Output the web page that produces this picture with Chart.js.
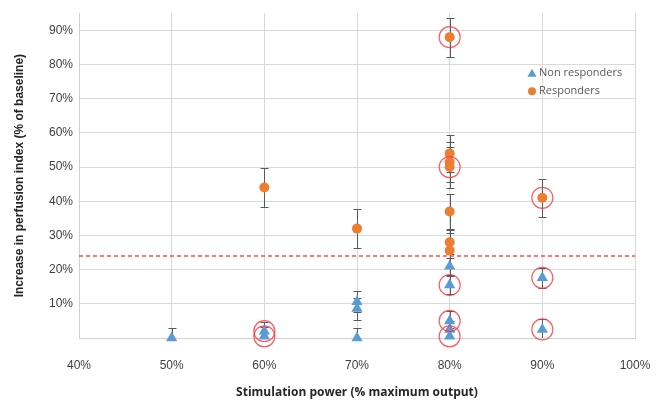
<!DOCTYPE html>
<html>
<head>
<meta charset="utf-8">
<script src="https://cdn.jsdelivr.net/npm/chart.js@4/dist/chart.umd.min.js"></script>
<style>
  html, body { margin: 0; padding: 0; background: #fff; }
  #wrap { width: 661px; height: 400px; }
</style>
</head>
<body>
<div id="wrap"><canvas id="chart" width="661" height="400"></canvas></div>
<script>
// Stimulation power (% max output) and perfusion increase (% of baseline)
const nonRespX   = [50, 60, 60, 70, 70, 70, 80, 80, 80, 80, 80, 90, 90];
const nonRespY   = [0, 2, 0.5, 10.6, 8.6, 0, 21, 15.5, 5, 2.5, 0.5, 17.6, 2.5];
const nonRespErr = [3, 2.6, 2.6, 3.1, 3.2, 3, 2.5, 2.5, 3, 2.5, 2.5, 3, 3.2];

const respX   = [60, 70, 80, 80, 80, 80, 80, 80, 80, 90];
const respY   = [44, 32, 88, 54, 51.5, 50, 37, 28, 25.6, 41];
const respErr = [5.6, 5.6, 5.7, 5.4, 5.8, 6, 5, 3.5, 5, 5.6];

// points marked with a red ring
const ringX = [60, 60, 80, 80, 80, 80, 80, 90, 90, 90];
const ringY = [2, 0.5, 88, 50, 15.5, 5, 0.5, 41, 17.6, 2.5];

const legendNames = ['Non responders', 'Responders'];

const threshold = 24;
const xMin = 40, xMax = 100;
const yMin = 0, yMax = 95;

const toPoints = (xs, ys) => xs.map((x, i) => ({ x: x, y: ys[i] }));

// simple vertical error bars drawn through the chart scales
const errorBars = {
  id: 'errorBars',
  beforeDatasetsDraw(chart) {
    const ctx = chart.ctx;
    const xs = chart.scales.x;
    const ys = chart.scales.y;
    const sets = [[nonRespX, nonRespY, nonRespErr], [respX, respY, respErr]];
    ctx.save();
    ctx.beginPath();
    ctx.rect(chart.chartArea.left, chart.chartArea.top - 10,
      chart.chartArea.width, chart.chartArea.height + 10);
    ctx.clip();
    ctx.strokeStyle = '#595959';
    ctx.lineWidth = 1;
    sets.forEach(([px, py, pe]) => {
      px.forEach((x, i) => {
        const cx = Math.round(xs.getPixelForValue(x)) + 0.5;
        const top = Math.round(ys.getPixelForValue(py[i] + pe[i])) + 0.5;
        const bot = Math.round(ys.getPixelForValue(py[i] - pe[i])) + 0.5;
        ctx.beginPath();
        ctx.moveTo(cx, top); ctx.lineTo(cx, bot);
        ctx.moveTo(cx - 4, top); ctx.lineTo(cx + 4, top);
        ctx.moveTo(cx - 4, bot); ctx.lineTo(cx + 4, bot);
        ctx.stroke();
      });
    });
    ctx.restore();
  }
};

// legend inside the plot, upper right like the original
const innerLegend = {
  id: 'innerLegend',
  afterDraw(chart) {
    const ctx = chart.ctx;
    const x0 = chart.chartArea.right - 103;
    let y0 = chart.chartArea.top + 60;
    ctx.save();
    ctx.font = '11px "Open Sans"';
    ctx.textBaseline = 'middle';
    legendNames.forEach((name) => {
      const ds = chart.data.datasets.find((d) => d.label === name);
      ctx.fillStyle = ds.backgroundColor;
      ctx.beginPath();
      if (ds.pointStyle === 'triangle') {
        ctx.moveTo(x0, y0 - 4.5);
        ctx.lineTo(x0 + 4.5, y0 + 3.5);
        ctx.lineTo(x0 - 4.5, y0 + 3.5);
        ctx.closePath();
      } else {
        ctx.arc(x0, y0, 4, 0, Math.PI * 2);
      }
      ctx.fill();
      ctx.fillStyle = '#595959';
      ctx.fillText(name, x0 + 7, y0);
      y0 += 18;
    });
    ctx.restore();
  }
};

new Chart(document.getElementById('chart'), {
  type: 'scatter',
  data: {
    datasets: [
      {
        label: 'Threshold',
        type: 'line',
        data: [{ x: xMin, y: threshold }, { x: xMax, y: threshold }],
        borderColor: '#ff4b4b',
        borderWidth: 1.5,
        borderDash: [4, 3],
        pointRadius: 0,
        fill: false,
        order: 4
      },
      {
        label: 'Non responders',
        data: toPoints(nonRespX, nonRespY),
        pointStyle: 'triangle',
        pointRadius: 6.5,
        backgroundColor: '#5b9bd5',
        borderColor: '#5b9bd5',
        borderWidth: 0,
        order: 2
      },
      {
        label: 'Responders',
        data: toPoints(respX, respY),
        pointStyle: 'circle',
        pointRadius: 5,
        backgroundColor: '#ed7d31',
        borderColor: '#ed7d31',
        borderWidth: 0,
        order: 2
      },
      {
        label: 'Highlighted',
        data: toPoints(ringX, ringY),
        pointStyle: 'circle',
        pointRadius: 10.5,
        backgroundColor: 'rgba(0,0,0,0)',
        borderColor: 'rgba(255,50,60,0.8)',
        borderWidth: 1.2,
        order: 1
      }
    ]
  },
  options: {
    responsive: false,
    animation: false,
    clip: false,
    layout: { padding: { left: 12, right: 26, top: 12, bottom: 0 } },
    plugins: {
      legend: { display: false },
      tooltip: { enabled: false }
    },
    scales: {
      x: {
        type: 'linear',
        min: xMin,
        max: xMax,
        ticks: {
          stepSize: 10,
          padding: 3,
          color: '#404040',
          font: { family: 'Liberation Sans', size: 12 },
          callback: (v) => v + '%'
        },
        grid: { color: '#d9d9d9', drawTicks: true, tickLength: 17, tickColor: 'rgba(0,0,0,0)' },
        border: { color: '#d0d0d0' },
        title: {
          display: true,
          text: 'Stimulation power (% maximum output)',
          color: '#262626',
          font: { family: 'Open Sans', size: 12, weight: 'bold' },
          padding: { top: 4, bottom: 0 }
        },
        afterFit: (scale) => { scale.height = 62; }
      },
      y: {
        type: 'linear',
        min: yMin,
        max: yMax,
        afterBuildTicks: (scale) => {
          scale.ticks = scale.ticks.filter((t) => t.value % 10 === 0);
        },
        ticks: {
          stepSize: 10,
          padding: 6,
          color: '#404040',
          font: { family: 'Liberation Sans', size: 12 },
          callback: (v) => (v === 0 ? '' : v + '%')
        },
        grid: { color: '#d9d9d9', drawTicks: false },
        border: { color: '#d0d0d0' },
        title: {
          display: true,
          text: 'Increase in perfusion index (% of baseline)',
          color: '#262626',
          font: { family: 'Liberation Sans', size: 12, weight: 'bold' },
          padding: { top: 0, bottom: 4 }
        },
        afterFit: (scale) => { scale.width = 67; }
      }
    }
  },
  plugins: [errorBars, innerLegend]
});
</script>
</body>
</html>
